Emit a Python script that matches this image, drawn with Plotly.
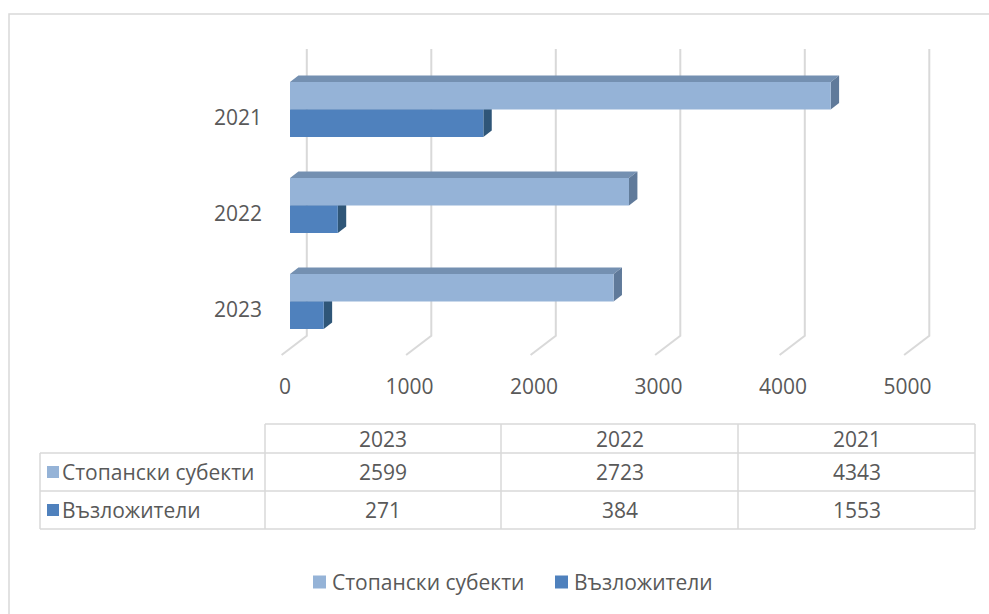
import plotly.graph_objects as go

# ---------------- data ----------------
categories = ["2023", "2022", "2021"]
series_names = ["Стопански субекти", "Възложители"]
stopanski = [2599, 2723, 4343]
vazlozhiteli = [271, 384, 1553]
x_ticks = [0, 1000, 2000, 3000, 4000, 5000]

# ---------------- style ----------------
front_colors = ["#95B3D7", "#4F81BD"]
top_colors = ["#7490B1", "#3E6795"]
side_colors = ["#607A9A", "#2F5678"]
FONT = "Open Sans"
FS = 21
TXT = "#595959"
GRID = "#D9D9D9"

W, H = 989, 614
L, R, T, B = 268, 962, 36, 372
X0_PX = 290.0
PX_PER_UNIT_X = 124.5 / 1000
CAT0_PX = 301.5
PX_PER_CAT = 96.0
BAR_PX = 27.5
DX_PX, DY_PX = 8.4, 6.4

xr = [(L - X0_PX) / PX_PER_UNIT_X, (R - X0_PX) / PX_PER_UNIT_X]
yr = [-(B - CAT0_PX) / PX_PER_CAT, (CAT0_PX - T) / PX_PER_CAT]
bw = BAR_PX / PX_PER_CAT
dxu = DX_PX / PX_PER_UNIT_X
dyu = DY_PX / PX_PER_CAT


def y_of_px(py):
    return (CAT0_PX - py) / PX_PER_CAT


def pxp(px):
    return (px - L) / (R - L)


def pyp(py):
    return (B - py) / (B - T)


idx = list(range(len(categories)))
series = [stopanski, vazlozhiteli]
offsets = [0.0, -bw]

fig = go.Figure()
for s, (name, vals) in enumerate(zip(series_names, series)):
    fig.add_trace(go.Bar(
        orientation="h", y=idx, x=vals, base=0, offset=offsets[s], width=bw,
        marker=dict(color=front_colors[s], line=dict(width=0)),
        name=name, showlegend=False, hoverinfo="x+name"))

shapes = []
# back wall gridlines + floor diagonals
floor_y = y_of_px(348.6)
wall_top = y_of_px(49)
for v in x_ticks:
    p = (f"M {v + 2 * dxu},{wall_top} L {v + 2 * dxu},{floor_y + 2 * dyu} "
         f"L {v - dxu},{floor_y - dyu}")
    shapes.append(dict(type="path", path=p, xref="x", yref="y",
                       line=dict(color=GRID, width=2), layer="below"))

# 3D faces of bars (bottom series first)
for s in reversed(range(len(series))):
    for i, v in zip(idx, series[s]):
        yb = i + offsets[s]
        yt = yb + bw
        top = (f"M 0,{yt} L {v},{yt} L {v + dxu},{yt + dyu} L {dxu},{yt + dyu} Z")
        side = (f"M {v},{yb} L {v},{yt} L {v + dxu},{yt + dyu} L {v + dxu},{yb + dyu} Z")
        shapes.append(dict(type="path", path=top, xref="x", yref="y",
                           fillcolor=top_colors[s], line=dict(width=0), layer="below"))
        shapes.append(dict(type="path", path=side, xref="x", yref="y",
                           fillcolor=side_colors[s], line=dict(width=0), layer="below"))

# outer chart border
shapes.append(dict(type="rect", xref="paper", yref="paper",
                   x0=pxp(9), x1=pxp(1000), y0=pyp(630), y1=pyp(14),
                   line=dict(color=GRID, width=1.5), fillcolor="rgba(0,0,0,0)"))

# ---------------- data table ----------------
col_x = [40, 265, 501, 738, 975]
row_y = [424, 453, 491, 529]
tl = dict(color=GRID, width=1.5)
shapes.append(dict(type="line", xref="paper", yref="paper", x0=pxp(col_x[1]), x1=pxp(col_x[-1]),
                   y0=pyp(row_y[0]), y1=pyp(row_y[0]), line=tl))
for ry in row_y[1:]:
    shapes.append(dict(type="line", xref="paper", yref="paper", x0=pxp(col_x[0]), x1=pxp(col_x[-1]),
                       y0=pyp(ry), y1=pyp(ry), line=tl))
shapes.append(dict(type="line", xref="paper", yref="paper", x0=pxp(col_x[0]), x1=pxp(col_x[0]),
                   y0=pyp(row_y[1]), y1=pyp(row_y[-1]), line=tl))
for cx in col_x[1:]:
    shapes.append(dict(type="line", xref="paper", yref="paper", x0=pxp(cx), x1=pxp(cx),
                       y0=pyp(row_y[0]), y1=pyp(row_y[-1]), line=tl))

annotations = []
fnt = dict(family=FONT, size=FS, color=TXT)
for c, cat in enumerate(categories):
    cx = (col_x[c + 1] + col_x[c + 2]) / 2
    annotations.append(dict(xref="paper", yref="paper", x=pxp(cx), y=pyp((row_y[0] + row_y[1]) / 2),
                            text=cat, showarrow=False, font=fnt, xanchor="center", yanchor="middle"))
for s, (name, vals) in enumerate(zip(series_names, series)):
    cy = (row_y[s + 1] + row_y[s + 2]) / 2
    shapes.append(dict(type="rect", xref="paper", yref="paper",
                       x0=pxp(47), x1=pxp(59), y0=pyp(cy + 6), y1=pyp(cy - 6),
                       fillcolor=front_colors[s], line=dict(width=0)))
    annotations.append(dict(xref="paper", yref="paper", x=pxp(60), y=pyp(cy), text=name,
                            showarrow=False, font=fnt, xanchor="left", yanchor="middle"))
    for c, v in enumerate(vals):
        cx = (col_x[c + 1] + col_x[c + 2]) / 2
        annotations.append(dict(xref="paper", yref="paper", x=pxp(cx), y=pyp(cy), text=str(v),
                                showarrow=False, font=fnt, xanchor="center", yanchor="middle"))

# ---------------- legend ----------------
legend_x = [313, 555]
legend_y = 582
for s, name in enumerate(series_names):
    shapes.append(dict(type="rect", xref="paper", yref="paper",
                       x0=pxp(legend_x[s]), x1=pxp(legend_x[s] + 13),
                       y0=pyp(legend_y + 6.5), y1=pyp(legend_y - 6.5),
                       fillcolor=front_colors[s], line=dict(width=0)))
    annotations.append(dict(xref="paper", yref="paper", x=pxp(legend_x[s] + 17), y=pyp(legend_y),
                            text=name, showarrow=False, font=fnt, xanchor="left", yanchor="middle"))

fig.update_layout(
    width=W, height=H,
    margin=dict(l=L, r=W - R, t=T, b=H - B, pad=0),
    paper_bgcolor="white", plot_bgcolor="white",
    barmode="overlay",
    showlegend=False,
    font=fnt,
    xaxis=dict(range=xr, tickvals=x_ticks, ticktext=[str(t) for t in x_ticks],
               showgrid=False, zeroline=False, showline=False, ticks="",
               ticklabelshift=-5, tickfont=fnt, fixedrange=True),
    yaxis=dict(range=yr, tickvals=idx, ticktext=categories,
               showgrid=False, zeroline=False, showline=False, ticks="",
               ticklabelshift=8, ticklabelstandoff=5, tickfont=fnt, fixedrange=True),
    shapes=shapes,
    annotations=annotations,
)

fig.write_html("out.html", config={"displayModeBar": False},
               post_script="document.body.style.margin='0px';")
